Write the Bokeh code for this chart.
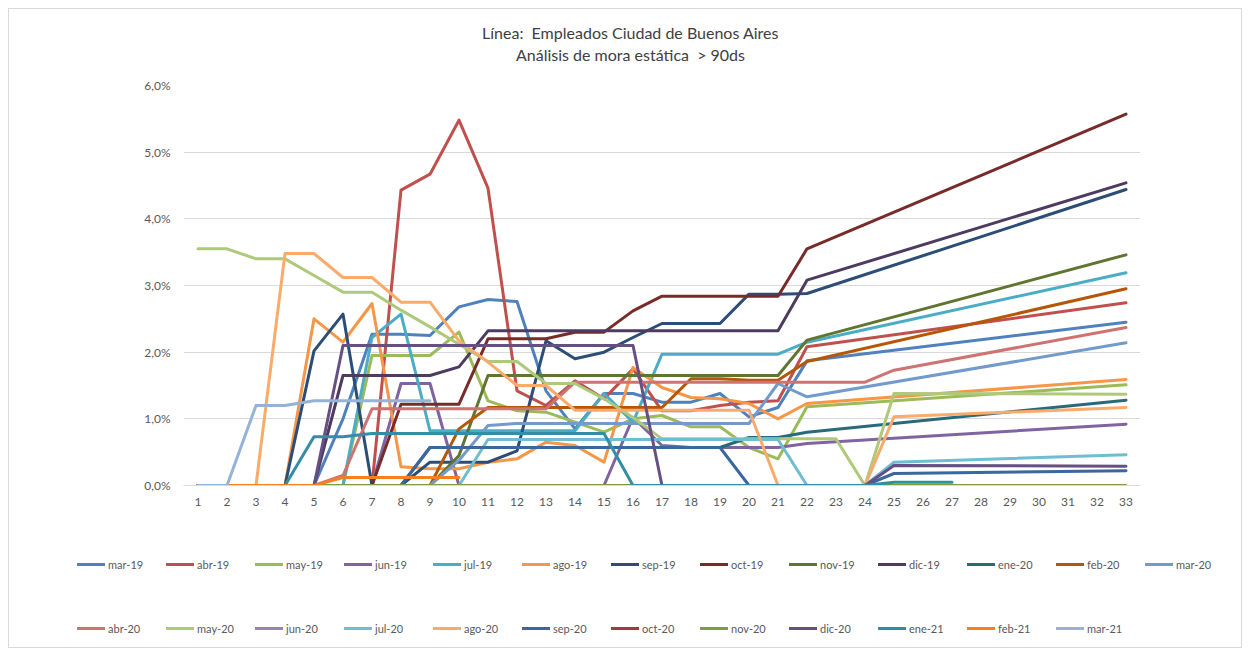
from bokeh.plotting import figure
from bokeh.layouts import column
from bokeh.models import Legend, LegendItem, FixedTicker
from bokeh.core.properties import value
from bokeh.embed import file_html
from bokeh.resources import INLINE

N = None
months = list(range(1, 34))
y_ticks = [0, 1, 2, 3, 4, 5, 6]
y_tick_labels = ["0,0%", "1,0%", "2,0%", "3,0%", "4,0%", "5,0%", "6,0%"]
title_lines = ["Línea:\u00a0 Empleados Ciudad de Buenos Aires", "Análisis de mora estática\u00a0 > 90ds"]

names = ["mar-19", "abr-19", "may-19", "jun-19", "jul-19", "ago-19", "sep-19", "oct-19",
         "nov-19", "dic-19", "ene-20", "feb-20", "mar-20", "abr-20", "may-20", "jun-20",
         "jul-20", "ago-20", "sep-20", "oct-20", "nov-20", "dic-20", "ene-21", "feb-21", "mar-21"]

# values in %, month 1..33 (None = empty cell, connected like Excel)
mar_19 = [0, 0, 0, 0, 0, 1.0, 2.27, 2.27, 2.25, 2.68, 2.79, 2.76, 1.42, 0.85, 1.38, 1.38, 1.25, 1.25, 1.38, 1.03, 1.17, 1.87, N, N, N, N, N, N, N, N, N, N, 2.45]
abr_19 = [0, 0, 0, 0, 0, 0, 0, 4.43, 4.67, 5.48, 4.46, 1.42, 1.2, 1.57, 1.3, 1.75, 1.12, 1.12, 1.2, 1.25, 1.27, 2.08, N, N, N, N, N, N, N, N, N, N, 2.74]
may_19 = [0, 0, 0, 0, 0, 0, 1.95, 1.95, 1.95, 2.3, 1.27, 1.12, 1.1, 0.95, 0.8, 1.0, 1.05, 0.88, 0.88, 0.57, 0.4, 1.18, N, N, N, N, N, N, N, N, N, N, 1.51]
jun_19 = [0, 0, 0, 0, 0, 0, 0, 1.53, 1.53, 0, 0, 0, 0, 0, 0, 1.02, 0.6, 0.57, 0.57, 0.57, 0.57, 0.63, N, N, N, N, N, N, N, N, N, N, 0.92]
jul_19 = [0, 0, 0, 0, 0, 0, 2.22, 2.57, 0.82, 0.82, 0.82, 0.82, 0.82, 0.82, 1.38, 0.95, 1.97, 1.97, 1.97, 1.97, 1.97, 2.15, N, N, N, N, N, N, N, N, N, N, 3.19]
ago_19 = [0, 0, 0, 0, 2.5, 2.15, 2.73, 0.28, 0.25, 0.25, 0.35, 0.4, 0.65, 0.6, 0.35, 1.77, 1.47, 1.32, 1.3, 1.23, 1.0, 1.23, N, N, N, N, N, N, N, N, N, N, 1.59]
sep_19 = [0, 0, 0, 0, 2.02, 2.57, 0, 0, 0.35, 0.35, 0.35, 0.52, 2.17, 1.9, 2.0, 2.22, 2.43, 2.43, 2.43, 2.87, 2.87, 2.88, N, N, N, N, N, N, N, N, N, N, 4.44]
oct_19 = [0, 0, 0, 0, 0, 0, 0, 1.22, 1.22, 1.22, 2.2, 2.2, 2.2, 2.3, 2.3, 2.62, 2.84, 2.84, 2.84, 2.84, 2.84, 3.55, N, N, N, N, N, N, N, N, N, N, 5.57]
nov_19 = [0, 0, 0, 0, 0, 0, 0, 0, 0, 0.45, 1.65, 1.65, 1.65, 1.65, 1.65, 1.65, 1.65, 1.65, 1.65, 1.65, 1.65, 2.18, N, N, N, N, N, N, N, N, N, N, 3.46]
dic_19 = [0, 0, 0, 0, 0, 1.65, 1.65, 1.65, 1.65, 1.78, 2.32, 2.32, 2.32, 2.32, 2.32, 2.32, 2.32, 2.32, 2.32, 2.32, 2.32, 3.08, N, N, N, N, N, N, N, N, N, N, 4.54]
ene_20 = [0, 0, 0, 0, 0, 0, 0, 0, 0.57, 0.57, 0.57, 0.57, 0.57, 0.57, 0.57, 0.57, 0.57, 0.57, 0.57, 0.72, 0.72, 0.8, N, N, N, N, N, N, N, N, N, N, 1.28]
feb_20 = [0, 0, 0, 0, 0, 0, 0, 0, 0, 0.85, 1.17, 1.17, 1.17, 1.17, 1.17, 1.17, 1.17, 1.6, 1.6, 1.58, 1.58, 1.86, N, N, N, N, N, N, N, N, N, N, 2.95]
mar_20 = [0, 0, 0, 0, 0, 0, 0, 0, 0, 0.38, 0.9, 0.93, 0.93, 0.93, 0.93, 0.93, 0.93, 0.93, 0.93, 0.93, 1.53, 1.33, N, N, N, N, N, N, N, N, N, N, 2.14]
abr_20 = [0, 0, 0, 0, 0, 0.15, 1.15, 1.15, 1.15, 1.15, 1.15, 1.15, 1.15, 1.55, 1.55, 1.55, 1.55, 1.55, 1.55, 1.55, 1.55, 1.55, 1.55, 1.55, 1.73, N, N, N, N, N, N, N, 2.37]
may_20 = [3.55, 3.55, 3.4, 3.4, 3.15, 2.9, 2.9, 2.63, 2.38, 2.12, 1.86, 1.86, 1.53, 1.53, 1.3, 1.02, 0.7, 0.7, 0.7, 0.7, 0.7, 0.7, 0.7, 0, 1.38, N, N, N, N, N, N, N, 1.37]
jun_20 = [0, 0, 0, 0, 0, 0, 0, 0, 0, 0, 0, 0, 0, 0, 0, 0, 0, 0, 0, 0, 0, 0, 0, 0]
jul_20 = [0, 0, 0, 0, 0, 0, 0, 0, 0, 0, 0.69, 0.69, 0.69, 0.69, 0.69, 0.69, 0.69, 0.69, 0.69, 0.69, 0.69, 0, 0, 0, 0.35, N, N, N, N, N, N, N, 0.46]
ago_20 = [0, 0, 0, 3.48, 3.48, 3.12, 3.12, 2.75, 2.75, 2.17, 1.85, 1.5, 1.5, 1.13, 1.13, 1.13, 1.13, 1.13, 1.13, 1.13, 0, 0, 0, 0, 1.03, N, N, N, N, N, N, N, 1.17]
sep_20 = [0, 0, 0, 0, 0, 0, 0, 0, 0.57, 0.57, 0.57, 0.57, 0.57, 0.57, 0.57, 0.57, 0.57, 0.57, 0.57, 0, 0, 0, 0, 0, 0.18, N, N, N, N, N, N, N, 0.22]
oct_20 = [0, 0, 0, 0, 0, 0, 0, 0, 0, 0, 0, 0, 0, 0, 0, 0, 0, 0, 0, 0, 0, 0, 0, 0]
nov_20 = [0, 0, 0, 0, 0, 0, 0, 0, 0, 0, 0, 0, 0, 0, 0, 0, 0, 0, 0, 0, 0, 0, 0, 0, 0, 0, 0, 0, 0, 0, 0, 0, 0]
dic_20 = [0, 0, 0, 0, 0, 2.1, 2.1, 2.1, 2.1, 2.1, 2.1, 2.1, 2.1, 2.1, 2.1, 2.1, 0, 0, 0, 0, 0, 0, 0, 0, 0.3, N, N, N, N, N, N, N, 0.29]
ene_21 = [0, 0, 0, 0, 0.73, 0.73, 0.78, 0.78, 0.78, 0.78, 0.78, 0.78, 0.78, 0.78, 0.78, 0, 0, 0, 0, 0, 0, 0, 0, 0, 0.05, 0.05, 0.05]
feb_21 = [0, 0, 0, 0, 0, 0.12, 0.12, 0.12, 0.12, 0.12]
mar_21 = [0, 0, 1.2, 1.2, 1.27, 1.27, 1.27, 1.27, 1.27]

series = [mar_19, abr_19, may_19, jun_19, jul_19, ago_19, sep_19, oct_19, nov_19, dic_19,
          ene_20, feb_20, mar_20, abr_20, may_20, jun_20, jul_20, ago_20, sep_20, oct_20,
          nov_20, dic_20, ene_21, feb_21, mar_21]

colors = ["#4F81BD", "#C0504D", "#9BBB59", "#8064A2", "#4BACC6", "#F79646", "#2C4D75", "#772C2A",
          "#5F7530", "#4D3B62", "#276A7C", "#B65708", "#729ACA", "#CD7371", "#AFC97A", "#9983B5",
          "#6FBDD1", "#F9AB6B", "#3A679C", "#9F3B38", "#7E9D40", "#664F83", "#338EA5", "#F6801F",
          "#95B3D7"]

FONT = "Lato"
GRAY = "#595959"
W = 1232


def blank(h):
    f = figure(width=W, height=h, x_range=(0, W), y_range=(0, h), output_backend="svg",
               toolbar_location=None, min_border=0)
    f.axis.visible = False
    f.grid.visible = False
    f.outline_line_color = None
    f.frame_align = False
    return f


# ---- header with the two title lines
hdr = blank(66)
hdr.text(x=[621, 621], y=[43, 21], text=title_lines, text_align="center", text_baseline="middle",
         text_font=value(FONT), text_font_size="16px", text_color="#404040")

# ---- main chart
p = figure(width=W, height=464, x_range=(0.5, 33.5), y_range=(0, 6),
           output_backend="svg", toolbar_location=None,
           min_border_left=174, min_border_right=101, min_border_top=10, min_border_bottom=54)
p.outline_line_color = None
p.frame_align = False

p.xgrid.visible = False
p.ygrid.ticker = FixedTicker(ticks=y_ticks)
p.ygrid.grid_line_color = "#D9D9D9"
p.ygrid.grid_line_width = 1

p.yaxis.ticker = FixedTicker(ticks=y_ticks)
p.yaxis.major_label_overrides = {t: lab for t, lab in zip(y_ticks, y_tick_labels)}
p.yaxis.axis_line_color = None
p.yaxis.major_tick_line_color = None
p.yaxis.minor_tick_line_color = None
p.yaxis.major_label_standoff = 7

p.xaxis.ticker = FixedTicker(ticks=months)
p.xaxis.axis_line_color = "#D9D9D9"
p.xaxis.major_tick_line_color = None
p.xaxis.minor_tick_line_color = None
p.xaxis.major_label_standoff = 6

for ax in (p.xaxis[0], p.yaxis[0]):
    ax.major_label_text_font = FONT
    ax.major_label_text_font_size = "12px"
    ax.major_label_text_color = GRAY

# ---- legend strip
lf = blank(108)
items1, items2 = [], []
for i, (name, vals, col) in enumerate(zip(names, series, colors)):
    xs = [m for m, v in zip(months, vals) if v is not None]
    ys = [v for v in vals if v is not None]
    p.line(xs, ys, line_color=col, line_width=3, line_join="round", line_cap="round")
    proxy = lf.line(x=[-20, -10], y=[-20, -20], line_color=col, line_width=3, line_cap="round")
    (items1 if i < 13 else items2).append(LegendItem(label=name, renderers=[proxy]))

for items, ly in ((items1, 76), (items2, 12)):
    lg = Legend(items=items, orientation="horizontal", location=(68, ly),
                glyph_width=28, glyph_height=14, label_height=14, label_width=56,
                label_standoff=3, spacing=2, padding=0, margin=0,
                border_line_color=None, background_fill_alpha=0,
                label_text_font=FONT, label_text_font_size="11px", label_text_color=GRAY)
    lf.add_layout(lg)

layout = column(hdr, p, lf, spacing=0,
                styles={"border": "1px solid #D9D9D9", "margin-left": "8px", "margin-top": "8px"})

open("out.html", "w").write(file_html(layout, INLINE))
